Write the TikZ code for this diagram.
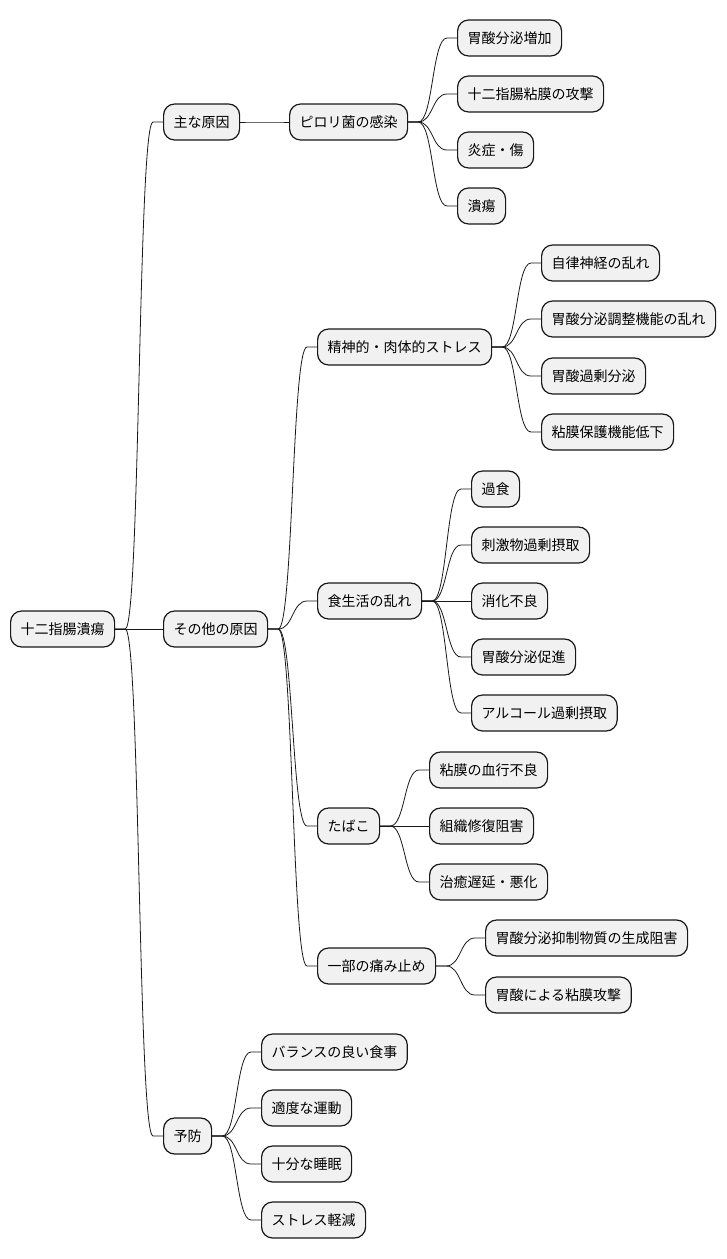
\documentclass[tikz,border=0pt]{standalone}
\usepackage{fontspec}
\setmainfont{Noto Sans CJK JP}
\definecolor{nodefill}{HTML}{F1F1F1}
\definecolor{ink}{HTML}{181818}
\begin{document}
\begin{tikzpicture}[x=1pt,y=-1pt,
  mm/.style={draw=ink,fill=nodefill,line width=1.2pt,rounded corners=11pt,
    anchor=west,inner xsep=10pt,inner ysep=0pt,minimum height=36pt,
    font=\fontsize{14pt}{16pt}\selectfont,text=black},
  link/.style={draw=ink,line width=0.8pt}]
\useasboundingbox (0,0) rectangle (726,1259);
% root
\node[mm] (r) at (10,629) {十二指腸潰瘍};
% level 1
\node[mm] (a) at (163,122) {主な原因};
\node[mm] (b) at (163,629) {その他の原因};
\node[mm] (c) at (163,1136) {予防};
% main cause
\node[mm] (a1) at (289,122) {ピロリ菌の感染};
\node[mm] (a11) at (457,38) {胃酸分泌増加};
\node[mm] (a12) at (457,94) {十二指腸粘膜の攻撃};
\node[mm] (a13) at (457,150) {炎症・傷};
\node[mm] (a14) at (457,206) {潰瘍};
% other causes
\node[mm] (b1) at (317,347) {精神的・肉体的ストレス};
\node[mm] (b11) at (541,263) {自律神経の乱れ};
\node[mm] (b12) at (541,319) {胃酸分泌調整機能の乱れ};
\node[mm] (b13) at (541,376) {胃酸過剰分泌};
\node[mm] (b14) at (541,432) {粘膜保護機能低下};
\node[mm] (b2) at (317,601) {食生活の乱れ};
\node[mm] (b21) at (471,489) {過食};
\node[mm] (b22) at (471,545) {刺激物過剰摂取};
\node[mm] (b23) at (471,601) {消化不良};
\node[mm] (b24) at (471,657) {胃酸分泌促進};
\node[mm] (b25) at (471,713) {アルコール過剰摂取};
\node[mm] (b3) at (317,826) {たばこ};
\node[mm] (b31) at (429,770) {粘膜の血行不良};
\node[mm] (b32) at (429,826) {組織修復阻害};
\node[mm] (b33) at (429,882) {治癒遅延・悪化};
\node[mm] (b4) at (317,966) {一部の痛み止め};
\node[mm] (b41) at (485,938) {胃酸分泌抑制物質の生成阻害};
\node[mm] (b42) at (485,995) {胃酸による粘膜攻撃};
% prevention
\node[mm] (c1) at (261,1052) {バランスの良い食事};
\node[mm] (c2) at (261,1108) {適度な運動};
\node[mm] (c3) at (261,1164) {十分な睡眠};
\node[mm] (c4) at (261,1220) {ストレス軽減};
% connectors
\foreach \p/\q in {r/a,r/b,r/c,a/a1,a1/a11,a1/a12,a1/a13,a1/a14,
  b/b1,b/b2,b/b3,b/b4,b1/b11,b1/b12,b1/b13,b1/b14,
  b2/b21,b2/b22,b2/b23,b2/b24,b2/b25,b3/b31,b3/b32,b3/b33,
  b4/b41,b4/b42,c/c1,c/c2,c/c3,c/c4}
  \draw[link] (\p.east) -- ++(10,0) .. controls +(15,0) and +(-15,0) .. ([xshift=-10pt]\q.west) -- (\q.west);
\end{tikzpicture}
\end{document}
